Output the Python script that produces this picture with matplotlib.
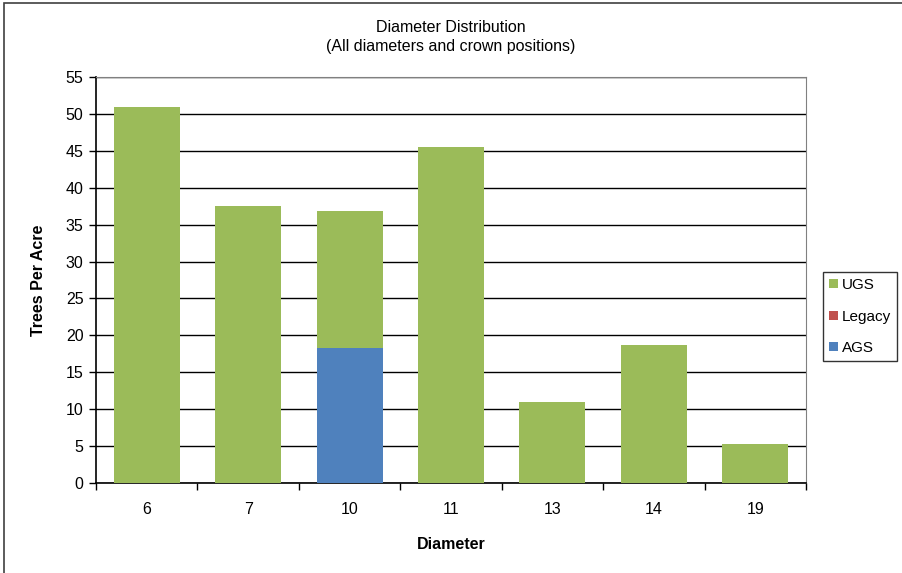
import numpy as np
import matplotlib.pyplot as plt
from matplotlib.patches import Rectangle

plt.rcParams['font.family'] = ['Liberation Sans', 'DejaVu Sans']

# diameter classes and trees per acre by crown class
diameters = ['6', '7', '10', '11', '13', '14', '19']
ags = [0, 0, 18.3, 0, 0, 0, 0]
legacy = [0, 0, 0, 0, 0, 0, 0]
ugs = [51.0, 37.5, 18.5, 45.5, 11.0, 18.7, 5.3]

green = '#9BBB59'
red = '#C0504D'
blue = '#4F81BD'

fig = plt.figure(figsize=(9.02, 5.73), dpi=100)
ax = fig.add_axes([96/902, 1 - 483/573, 710/902, 406/573])

x = np.arange(len(diameters))
w = 0.65
ags_a = np.array(ags)
leg_a = np.array(legacy)
ugs_a = np.array(ugs)
b1 = ax.bar(x, ags_a, w, color=blue, label='AGS', zorder=3)
b2 = ax.bar(x, leg_a, w, bottom=ags_a, color=red, label='Legacy', zorder=3)
b3 = ax.bar(x, ugs_a, w, bottom=ags_a + leg_a, color=green, label='UGS', zorder=3)

ax.set_xlim(-0.5, len(diameters) - 0.5)
ax.set_ylim(0, 55)
ax.set_yticks(range(0, 56, 5))
ax.yaxis.grid(True, color='black', linewidth=1.0, zorder=0)
ax.set_axisbelow(True)

# x ticks sit between the categories, labels in the middle
ax.set_xticks(np.arange(-0.5, len(diameters), 1))
ax.set_xticklabels([])
ax.set_xticks(x, minor=True)
ax.set_xticklabels(diameters, minor=True)
ax.tick_params(axis='x', which='minor', length=0, pad=14, labelsize=11.5)
ax.tick_params(axis='x', which='major', length=5, direction='out', width=1)
ax.tick_params(axis='y', length=5, direction='out', width=1, labelsize=11.5, pad=4)

for side in ['top', 'right']:
    ax.spines[side].set_color('#808080')
for side in ['left', 'bottom']:
    ax.spines[side].set_color('black')
    ax.spines[side].set_linewidth(1.2)

ax.set_xlabel('Diameter', fontsize=11.5, fontweight='bold', labelpad=14)
ax.set_ylabel('Trees Per Acre', fontsize=11.5, fontweight='bold', labelpad=14)

fig.text(0.5, 1 - 27/573, 'Diameter Distribution', ha='center', va='center', fontsize=11.5)
fig.text(0.5, 1 - 47/573, '(All diameters and crown positions)', ha='center', va='center', fontsize=11.5)

leg = fig.legend(handles=[b3, b2, b1], labels=['UGS', 'Legacy', 'AGS'],
                 loc='upper left', bbox_to_anchor=(823/902, 1 - 272/573),
                 frameon=True, fancybox=False, edgecolor='black', fontsize=11,
                 handlelength=0.55, handleheight=0.55, handletextpad=0.3,
                 labelspacing=1.15, borderpad=0.4, borderaxespad=0)
leg.get_frame().set_linewidth(1.0)

# outer chart border
fig.patches.append(Rectangle((4/902, -0.1), 1.2, 1 - 3/573 + 0.1, transform=fig.transFigure,
                             fill=False, edgecolor='#404040', linewidth=1.2))

fig.savefig('out.png', dpi=100)
